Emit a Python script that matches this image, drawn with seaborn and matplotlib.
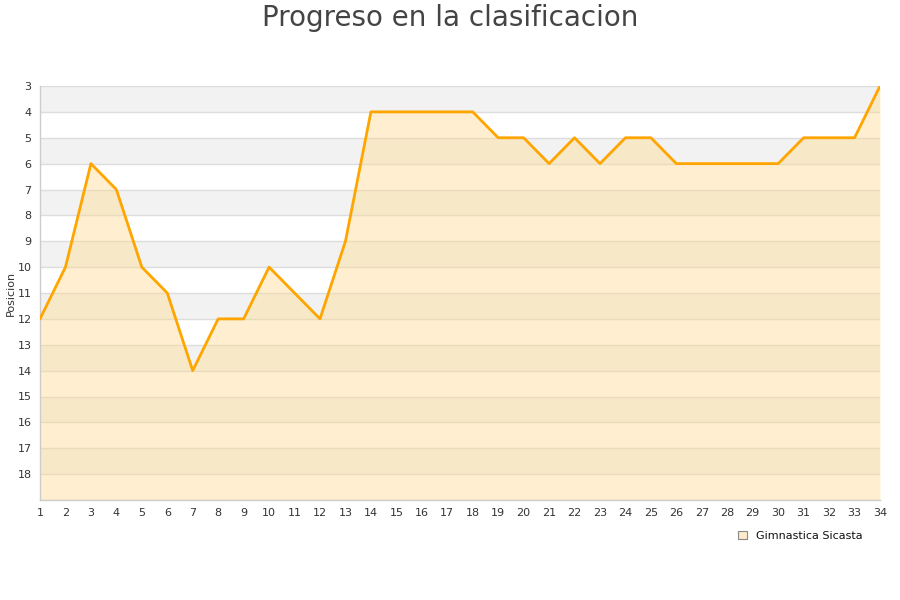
import matplotlib
matplotlib.use("Agg")
import matplotlib.pyplot as plt
import seaborn as sns
import pandas as pd
from matplotlib.patches import Patch

jornadas = list(range(1, 35))
posiciones = [12, 10, 6, 7, 10, 11, 14, 12, 12, 10, 11, 12, 9, 4, 4, 4, 4, 4, 5, 5,
              6, 5, 6, 5, 5, 6, 6, 6, 6, 6, 5, 5, 5, 3]
equipo = "Gimnastica Sicasta"
titulo = "Progreso en la clasificacion"
ylabel = "Posicion"
ytick_vals = list(range(3, 19))

df = pd.DataFrame({"Jornada": jornadas, "Posicion": posiciones})

sns.set_style("white")
plt.rcParams['font.family'] = ['DejaVu Sans']

fig = plt.figure(figsize=(9, 6), dpi=100)
ax = fig.add_axes([40/900, 100/600, 840/900, 414/600])

# alternating bands
for v in range(3, 19, 2):
    ax.axhspan(v, v + 1, color="#f2f2f2", zorder=0, lw=0)
for v in range(3, 20):
    ax.axhline(v, color="#dddddd", lw=1, zorder=1)

ax.fill_between(df["Jornada"], df["Posicion"], 19, color="#ffd98a", alpha=0.4,
                lw=0, zorder=2)
sns.lineplot(data=df, x="Jornada", y="Posicion", ax=ax, color="#ffa500", lw=2,
             zorder=3, label=equipo, legend=False)

ax.set_xlim(1, 34)
ax.set_ylim(19, 3)
ax.set_xticks(jornadas)
ax.set_yticks(ytick_vals)
ax.tick_params(axis="both", labelsize=8, colors="#333333", length=0, pad=6)
ax.set_xlabel("")
ax.set_ylabel(ylabel, fontsize=8, color="#333333")
ax.yaxis.set_label_coords(-0.029, 0.5)
for s in ["top", "right"]:
    ax.spines[s].set_visible(False)
for s in ["left", "bottom"]:
    ax.spines[s].set_color("#cccccc")
    ax.spines[s].set_linewidth(1)

fig.suptitle(titulo, fontsize=20, color="#444444", y=0.993)

h = Patch(facecolor="#feebc9", edgecolor="#888888", lw=0.8)
fig.legend([h], [equipo], loc="center", bbox_to_anchor=(800/900, 1 - 536/600),
           frameon=False, fontsize=8, handlelength=0.8, handleheight=0.8,
           handletextpad=0.8, labelcolor="#111111")

fig.savefig("out.png", dpi=100, facecolor="white")
